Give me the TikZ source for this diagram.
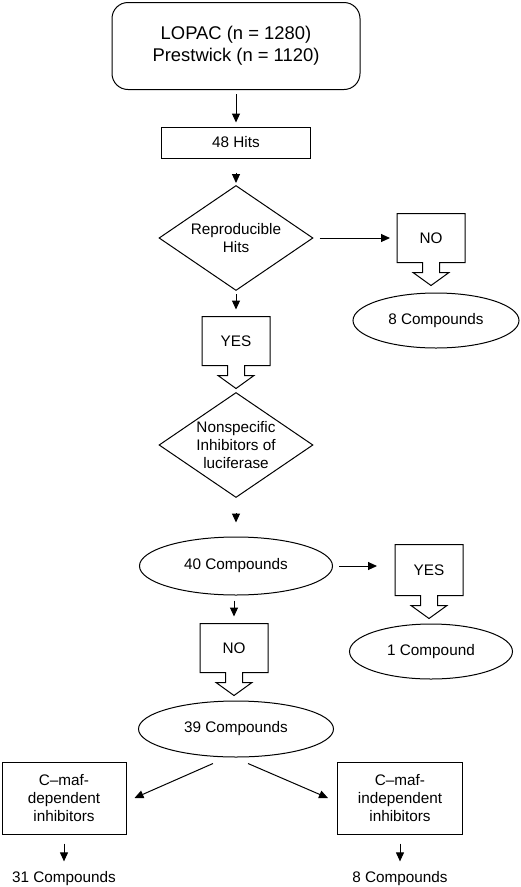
\documentclass[tikz,border=0pt]{standalone}
\usepackage{fontspec}
\setmainfont{Liberation Sans}
\usetikzlibrary{shapes.geometric}
\usetikzlibrary{arrows.meta}

% box outline with a hollow block arrow under it
\newcommand\arrowbox[1]{%
\draw ([xshift=-8.5pt]#1.south) -- (#1.south west) -- (#1.north west) -- (#1.north east)
  -- (#1.south east) -- ([xshift=8.5pt]#1.south) -- ++(0,10) -- ++(9.5,0) -- ++(-18,13)
  -- ++(-18,-13) -- ++(9.5,0) -- cycle;}

\begin{document}
\begin{tikzpicture}[x=1pt,y=-1pt,line width=1pt,
font=\fontsize{15.3}{18}\selectfont,
box/.style={rectangle,draw,inner sep=0pt,align=center},
choice/.style={rectangle,inner sep=0pt,minimum width=67pt,minimum height=48pt},
test/.style={diamond,draw,aspect=1.45,inner sep=-6pt,minimum width=154pt,minimum height=105pt,align=center},
pool/.style={ellipse,draw,inner sep=0pt},
arr/.style={-{Triangle[length=9pt,width=8pt]}}
]
\useasboundingbox (0,0) rectangle (520,887);

\node[box,rounded corners=16pt,minimum width=248pt,minimum height=87pt,
  font=\fontsize{18.4}{22}\selectfont] (src) at (236,46) {LOPAC (n = 1280)\\Prestwick (n = 1120)};
\node[box,minimum width=149pt,minimum height=31pt] (hits) at (236,142.5) {48 Hits};
\node[test] (rep) at (236,238) {Reproducible\\Hits};
\node[choice] (no1) at (431,238) {NO};
\node[pool,minimum width=166pt,minimum height=55pt] (c8) at (436,320.5) {8 Compounds};
\node[choice] (yes1) at (236,341) {YES};
\node[test] (lucif) at (236,445) {Nonspecific\\Inhibitors of\\luciferase};
\node[pool,minimum width=193pt,minimum height=58pt] (c40) at (236,566) {40 Compounds};
\node[choice,minimum height=50pt] (yes2) at (429,570) {YES};
\node[pool,minimum width=163pt,minimum height=55pt] (c1) at (431,651.5) {1 Compound};
\node[choice] (no2) at (234,648) {NO};
\node[pool,minimum width=195pt,minimum height=56pt] (c39) at (236,729) {39 Compounds};
\node[box,minimum width=124pt,minimum height=72pt] (dep) at (64,798) {C–maf-\\dependent\\inhibitors};
\node[box,minimum width=125pt,minimum height=72pt] (indep) at (400,798) {C–maf-\\independent\\inhibitors};
\node[inner sep=0pt] (c31) at (64,879) {31 Compounds};
\node[inner sep=0pt] (c8b) at (400,879) {8 Compounds};

\arrowbox{no1}
\arrowbox{yes1}
\arrowbox{yes2}
\arrowbox{no2}

\draw[arr,shorten <=4pt,shorten >=4pt] (src) -- (hits);
\draw[arr,shorten <=14pt,shorten >=2pt] (hits) -- (rep);
\draw[arr,shorten <=6pt,shorten >=7pt] (rep) -- (no1);
\draw[arr,shorten <=3pt,shorten >=7pt] (rep) -- (yes1);
\draw[arr,shorten <=15pt,shorten >=14pt] (lucif) -- (c40);
\draw[arr,shorten <=6pt,shorten >=18pt] (c40.east) -- (yes2.west |- c40.east);
\draw[arr,shorten <=5pt,shorten >=7pt] (c40.south -| no2) -- (no2.north);
\draw[arr] ([xshift=-23pt,yshift=-6pt]c39.south) -- ([xshift=8pt]dep.east);
\draw[arr] ([xshift=12pt,yshift=-6pt]c39.south) -- ([xshift=-9pt]indep.west);
\draw[arr,shorten <=9pt,shorten >=10pt] (dep) -- (c31);
\draw[arr,shorten <=9pt,shorten >=10pt] (indep) -- (c8b);
\end{tikzpicture}
\end{document}
